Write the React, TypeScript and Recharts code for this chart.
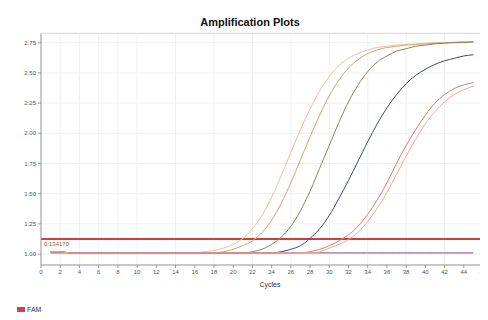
import React from "react";
import { LineChart, Line, XAxis, YAxis, CartesianGrid, ReferenceLine } from "recharts";

const cycles = [1, 2, 3, 4, 5, 6, 7, 8, 9, 10, 11, 12, 13, 14, 15, 16, 17, 18, 19, 20, 21, 22, 23, 24, 25, 26, 27, 28, 29, 30, 31, 32, 33, 34, 35, 36, 37, 38, 39, 40, 41, 42, 43, 44, 45];

const wellA = [1.02, 1.02, 1.01, 1.01, 1.01, 1.01, 1.01, 1.01, 1.01, 1.01, 1.01, 1.01, 1.01, 1.01, 1.01, 1.01, 1.02, 1.03, 1.05, 1.08, 1.13, 1.21, 1.32, 1.47, 1.65, 1.84, 2.03, 2.2, 2.35, 2.47, 2.56, 2.62, 2.66, 2.69, 2.71, 2.72, 2.73, 2.735, 2.74, 2.745, 2.75, 2.75, 2.755, 2.76, 2.76];
const wellB = [1.02, 1.02, 1.01, 1.01, 1.01, 1.01, 1.01, 1.01, 1.01, 1.01, 1.01, 1.01, 1.01, 1.01, 1.01, 1.01, 1.01, 1.01, 1.02, 1.04, 1.07, 1.11, 1.18, 1.28, 1.42, 1.59, 1.78, 1.97, 2.15, 2.31, 2.44, 2.54, 2.61, 2.66, 2.69, 2.71, 2.72, 2.73, 2.735, 2.74, 2.745, 2.75, 2.75, 2.755, 2.76];
const wellC = [1.02, 1.02, 1.01, 1.01, 1.01, 1.01, 1.01, 1.01, 1.01, 1.01, 1.01, 1.01, 1.01, 1.01, 1.01, 1.01, 1.01, 1.01, 1.01, 1.01, 1.01, 1.02, 1.04, 1.08, 1.14, 1.23, 1.36, 1.52, 1.71, 1.9, 2.09, 2.26, 2.4, 2.51, 2.59, 2.64, 2.68, 2.7, 2.72, 2.73, 2.74, 2.745, 2.75, 2.75, 2.755];
const wellD = [1.02, 1.02, 1.01, 1.01, 1.01, 1.01, 1.01, 1.01, 1.01, 1.01, 1.01, 1.01, 1.01, 1.01, 1.01, 1.01, 1.01, 1.01, 1.01, 1.01, 1.01, 1.01, 1.01, 1.01, 1.02, 1.04, 1.07, 1.13, 1.21, 1.32, 1.46, 1.61, 1.77, 1.93, 2.08, 2.21, 2.32, 2.41, 2.48, 2.53, 2.57, 2.6, 2.62, 2.64, 2.65];
const wellE = [1.02, 1.02, 1.01, 1.01, 1.01, 1.01, 1.01, 1.01, 1.01, 1.01, 1.01, 1.01, 1.01, 1.01, 1.01, 1.01, 1.01, 1.01, 1.01, 1.01, 1.01, 1.01, 1.01, 1.01, 1.01, 1.01, 1.01, 1.02, 1.04, 1.07, 1.11, 1.16, 1.23, 1.33, 1.45, 1.59, 1.75, 1.9, 2.03, 2.15, 2.25, 2.32, 2.37, 2.4, 2.42];
const wellF = [1.02, 1.02, 1.01, 1.01, 1.01, 1.01, 1.01, 1.01, 1.01, 1.01, 1.01, 1.01, 1.01, 1.01, 1.01, 1.01, 1.01, 1.01, 1.01, 1.01, 1.01, 1.01, 1.01, 1.01, 1.01, 1.01, 1.01, 1.01, 1.02, 1.05, 1.08, 1.12, 1.18, 1.27, 1.38, 1.51, 1.66, 1.81, 1.95, 2.08, 2.18, 2.26, 2.32, 2.36, 2.39];
const ntc = [1.01, 1.01, 1.01, 1.01, 1.01, 1.01, 1.01, 1.01, 1.01, 1.01, 1.01, 1.01, 1.01, 1.01, 1.01, 1.01, 1.01, 1.01, 1.01, 1.01, 1.01, 1.01, 1.01, 1.01, 1.01, 1.01, 1.01, 1.01, 1.01, 1.01, 1.01, 1.01, 1.01, 1.01, 1.01, 1.01, 1.01, 1.01, 1.01, 1.01, 1.01, 1.01, 1.01, 1.01, 1.01];

const xTicks = [0, 2, 4, 6, 8, 10, 12, 14, 16, 18, 20, 22, 24, 26, 28, 30, 32, 34, 36, 38, 40, 42, 44, 46];
const yTicks = [1.0, 1.25, 1.5, 1.75, 2.0, 2.25, 2.5, 2.75];
const threshold = 1.125;
const thresholdLabel = "0.134170";

const series = [
  { key: "ntc", color: "#7a4a78", values: ntc },
  { key: "a", color: "#f0c09c", values: wellA },
  { key: "b", color: "#dca070", values: wellB },
  { key: "c", color: "#8c8260", values: wellC },
  { key: "d", color: "#3e4a7a", values: wellD },
  { key: "e", color: "#e27a72", values: wellE },
  { key: "f", color: "#f0aaa0", values: wellF },
];

const data = cycles.map((c, i) => {
  const row: Record<string, number> = { cycle: c };
  series.forEach((s) => (row[s.key] = s.values[i]));
  return row;
});

const tickStyle = { fontSize: 6, fill: "#555", fontFamily: "Liberation Sans, Arial, sans-serif" };

export default function App() {
  return (
    <div style={{ position: "relative", width: 488, height: 320, margin: -8, background: "#fff", fontFamily: "Liberation Sans, Arial, sans-serif", overflow: "hidden" }}>
      <LineChart width={488} height={320} data={data} margin={{ top: 33, right: 5, bottom: 25, left: 10 }}>
        <CartesianGrid stroke="#f0f0f0" />
        <XAxis
          dataKey="cycle"
          type="number"
          domain={[0, 46]}
          ticks={xTicks}
          tick={tickStyle}
          tickSize={3}
          height={30}
          stroke="#999"
          label={{ value: "Cycles", position: "insideBottom", offset: 8, dx: 8, fontSize: 7, fill: "#333" }}
        />
        <YAxis
          type="number"
          domain={[0.91, 2.83]}
          ticks={yTicks}
          tickFormatter={(v) => Number(v).toFixed(2)}
          tick={tickStyle}
          tickSize={3}
          width={31}
          stroke="#999"
          label={{ value: "Rn", angle: -90, position: "insideLeft", offset: 0, dx: -6, fontSize: 7, fill: "#333" }}
        />
        <ReferenceLine
          y={threshold}
          stroke="#c84040"
          strokeWidth={2}
          label={{ value: thresholdLabel, position: "insideTopLeft", offset: 3, fontSize: 6, fill: "#b05030" }}
        />
        {series.map((s) => (
          <Line key={s.key} type="monotone" dataKey={s.key} stroke={s.color} strokeWidth={1} dot={false} isAnimationActive={false} />
        ))}
      </LineChart>
      <div style={{ position: "absolute", top: 16, left: 0, width: 500, textAlign: "center", fontSize: 11, fontWeight: "bold", color: "#111", zIndex: 2 }}>
        Amplification Plots
      </div>
      <div style={{ position: "absolute", top: 33, left: 40, width: 448, height: 0, borderTop: "1px solid #dddddd", zIndex: 2 }} />
      <div style={{ position: "absolute", top: 305, left: 17, height: 10, lineHeight: "10px", fontSize: 7, color: "#333", zIndex: 2, whiteSpace: "nowrap" }}>
        <span style={{ display: "inline-block", width: 8, height: 7, background: "#d04050", marginRight: 2, verticalAlign: "middle" }} />
        <span style={{ verticalAlign: "middle" }}>FAM</span>
      </div>
    </div>
  );
}
